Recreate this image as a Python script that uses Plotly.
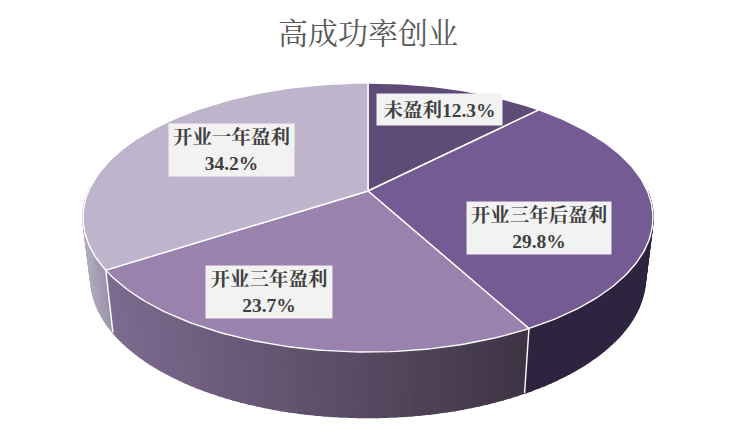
import math
import plotly.graph_objects as go

TITLE = "高成功率创业"
categories = ["未盈利", "开业三年后盈利", "开业三年盈利", "开业一年盈利"]
values = [12.3, 29.8, 23.7, 34.2]

# styling
top_colors = ["#5f4b78", "#755b93", "#9983ae", "#beb4cb"]
side_colors = [("#2f243f", "#2f243f"), ("#2f243f", "#2f243f"), ("#7d6b90", "#3e3444"), ("#a8a2b6", "#9a92aa")]
FONT = "'Liberation Serif', 'Noto Serif CJK SC', 'Noto Sans CJK SC', serif"
label_boxes = [(377, 94, 502, 125), (467, 202, 611, 254), (206, 266, 332, 318), (169, 124, 294, 176)]
label_breaks = [False, True, True, True]

# perspective of the tilted disc
CX, CY = 368, 191
A, B, K = 279.4, 129.3, 0.197
BOTTOM_CY, BOTTOM_SX, BOTTOM_SY = 250, 0.973, 1.04


def project(deg, bottom=False):
    t = math.radians(deg)
    x, y = math.sin(t), math.cos(t)
    w = 1 + K * y
    dx, dy = A * x / w, -B * y / w
    if bottom:
        return CX + dx * BOTTOM_SX, BOTTOM_CY + dy * BOTTOM_SY
    return CX + dx, CY + dy


def lerp_hex(a, b, f):
    pa = [int(a[i:i + 2], 16) for i in (1, 3, 5)]
    pb = [int(b[i:i + 2], 16) for i in (1, 3, 5)]
    return "rgb(%d,%d,%d)" % tuple(round(p + (q - p) * f) for p, q in zip(pa, pb))


def arc(start, end, step=1.0):
    n = max(1, int(math.ceil((end - start) / step)))
    return [start + (end - start) * i / n for i in range(n + 1)]


total = sum(values)
edges = [0.0]
for v in values:
    edges.append(edges[-1] + v / total * 360)

fig = go.Figure()

# sides (front half only); the gradient runs left to right across each slice
for i in range(len(values)):
    lo, hi = max(edges[i], 90), min(edges[i + 1], 272)
    if hi <= lo:
        continue
    angs = arc(lo, hi, 1.5)
    x_lo, x_hi = project(lo)[0], project(hi)[0]
    left, width = min(x_lo, x_hi), abs(x_hi - x_lo) or 1
    for a0, a1 in zip(angs[:-1], angs[1:]):
        p0, p1 = project(a0), project(a1)
        q0, q1 = project(a0, True), project(a1, True)
        mid = (p0[0] + p1[0]) / 2
        c = lerp_hex(side_colors[i][0], side_colors[i][1], (mid - left) / width)
        fig.add_trace(go.Scatter(
            x=[p0[0], p1[0], q1[0], q0[0], p0[0]], y=[p0[1], p1[1], q1[1], q0[1], p0[1]],
            mode="lines", fill="toself", fillcolor=c, line=dict(color=c, width=1.6),
            hoverinfo="skip", showlegend=False))

# white dividers down the side
for e in edges:
    if 90 < e < 260:
        p, q = project(e), project(e, True)
        fig.add_trace(go.Scatter(x=[p[0], q[0]], y=[p[1], q[1]], mode="lines",
                                 line=dict(color="white", width=1.4), hoverinfo="skip", showlegend=False))

# top face
for i in range(len(values)):
    pts = [project(a) for a in arc(edges[i], edges[i + 1])]
    xs = [CX] + [p[0] for p in pts] + [CX]
    ys = [CY] + [p[1] for p in pts] + [CY]
    fig.add_trace(go.Scatter(x=xs, y=ys, mode="lines", fill="toself", fillcolor=top_colors[i],
                             line=dict(color="white", width=1.4), name=categories[i],
                             hoverinfo="name", showlegend=False))

annotations = [dict(x=368, y=33, xref="x", yref="y", text=TITLE, showarrow=False,
                    font=dict(family=FONT, size=30, color="#595959"))]
for cat, val, box, brk in zip(categories, values, label_boxes, label_breaks):
    x0, y0, x1, y1 = box
    sep = "<br>" if brk else ""
    annotations.append(dict(
        x=(x0 + x1) / 2, y=(y0 + y1) / 2, xref="x", yref="y", xanchor="center", yanchor="middle",
        text=f"<b>{cat}{sep}{val}%</b>", showarrow=False, width=x1 - x0, height=y1 - y0,
        align="center", valign="middle", bgcolor="#f2f2f2", borderpad=0,
        font=dict(family=FONT, size=19.5, color="#404040")))

fig.update_layout(
    width=736, height=446, margin=dict(l=0, r=0, t=0, b=0),
    paper_bgcolor="white", plot_bgcolor="white", showlegend=False,
    xaxis=dict(range=[0, 736], visible=False, fixedrange=True),
    yaxis=dict(range=[446, 0], visible=False, fixedrange=True),
    annotations=annotations,
)
fig.write_html("out.html", config=dict(displayModeBar=False),
               post_script="document.body.style.margin='0';document.documentElement.style.overflow='hidden';")
